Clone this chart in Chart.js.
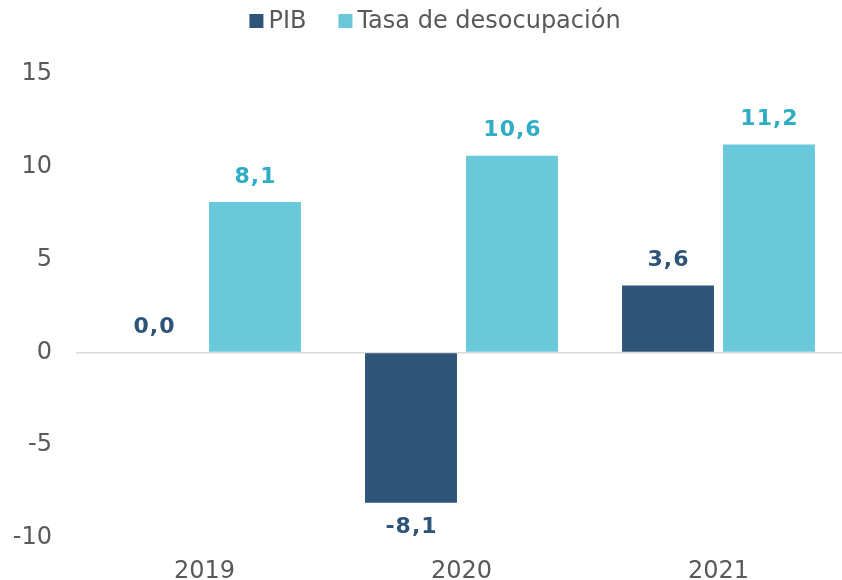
<!DOCTYPE html>
<html>
<head>
<meta charset="utf-8">
<script src="https://cdn.jsdelivr.net/npm/chart.js@4/dist/chart.umd.min.js"></script>
<style>
  html, body { margin: 0; padding: 0; background: #ffffff; overflow: hidden; }
  #wrap { width: 842px; height: 580px; overflow: hidden; position: relative; }
  canvas { display: block; }
</style>
</head>
<body>
<div id="wrap"><canvas id="c" width="847" height="580"></canvas></div>
<script>
const categories = ['2019', '2020', '2021'];
const pibValues = [0.0, -8.1, 3.6];
const desocupacionValues = [8.1, 10.6, 11.2];
const seriesNames = ['PIB', 'Tasa de desocupación'];
const yTicks = [-10, -5, 0, 5, 10, 15];

const DARK = '#2E5578';
const LIGHT = '#69C9DA';
const LIGHT_TEXT = '#2EADC5';
const TEXT = '#595959';
const FONT = "'DejaVu Sans', Verdana, sans-serif";

const fmt = v => v.toFixed(1).replace('.', ',');

// Legend drawn on the canvas (centered, compact spacing as in the reference)
const customLegend = {
  id: 'customLegend',
  afterDraw(chart) {
    const ctx = chart.ctx;
    ctx.save();
    ctx.font = '24px ' + FONT;
    ctx.textBaseline = 'middle';
    ctx.textAlign = 'left';
    const box = 14, gapText = 5, gapItem = 32, cy = 21, centerX = 435;
    const items = chart.data.datasets.map(ds => ({ text: ds.label, color: ds.backgroundColor, w: ctx.measureText(ds.label).width }));
    const total = items.reduce((s, it) => s + box + gapText + it.w, 0) + gapItem * (items.length - 1);
    let x = centerX - total / 2;
    items.forEach(it => {
      ctx.fillStyle = it.color;
      ctx.fillRect(x, cy - box / 2, box, box);
      x += box + gapText;
      ctx.fillStyle = TEXT;
      ctx.fillText(it.text, x, cy + 1);
      x += it.w + gapItem;
    });
    ctx.restore();
  }
};

const valueLabels = {
  id: 'valueLabels',
  afterDatasetsDraw(chart) {
    const ctx = chart.ctx;
    ctx.save();
    ctx.font = 'bold 22px ' + FONT;
    try { ctx.letterSpacing = '1px'; } catch (e) {}
    ctx.textAlign = 'center';
    ctx.textBaseline = 'middle';
    chart.data.datasets.forEach((ds, di) => {
      const meta = chart.getDatasetMeta(di);
      meta.data.forEach((bar, i) => {
        const v = ds.data[i];
        const y = v < 0 ? bar.y + 25 : bar.y - 25;
        ctx.fillStyle = ds.labelColor;
        ctx.fillText(fmt(v), bar.x + 0.5, y);
      });
    });
    ctx.restore();
  }
};

new Chart(document.getElementById('c'), {
  type: 'bar',
  data: {
    labels: categories,
    datasets: [
      { label: seriesNames[0], data: pibValues, backgroundColor: DARK, labelColor: DARK,
        categoryPercentage: 0.786, barPercentage: 0.91 },
      { label: seriesNames[1], data: desocupacionValues, backgroundColor: LIGHT, labelColor: LIGHT_TEXT,
        categoryPercentage: 0.786, barPercentage: 0.91 }
    ]
  },
  options: {
    responsive: false,
    animation: false,
    layout: { padding: { left: 0, right: 0, top: 74, bottom: 0 } },
    plugins: {
      legend: { display: false },
      tooltip: { enabled: false }
    },
    scales: {
      x: {
        grid: { display: false, drawTicks: false },
        border: { display: false },
        afterFit(scale) { scale.height = 42; },
        ticks: { color: TEXT, font: { family: FONT, size: 24 }, padding: 19 }
      },
      y: {
        min: -10,
        max: 15,
        afterBuildTicks(scale) { scale.ticks = yTicks.map(v => ({ value: v })); },
        afterFit(scale) { scale.width = 76; },
        grid: {
          drawTicks: false,
          color: c => (c.tick && c.tick.value === 0 ? '#D9D9D9' : 'rgba(0,0,0,0)'),
          lineWidth: 1.5
        },
        border: { display: false },
        ticks: { color: TEXT, font: { family: FONT, size: 24 }, padding: 24 }
      }
    }
  },
  plugins: [customLegend, valueLabels]
});
</script>
</body>
</html>
